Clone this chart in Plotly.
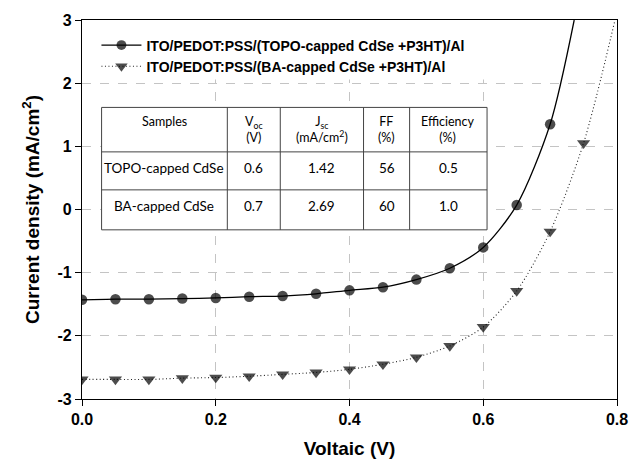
import plotly.graph_objects as go

# ---- data ----
voltage_topo = [0.00, 0.05, 0.10, 0.15, 0.20, 0.25, 0.30, 0.35, 0.40, 0.45, 0.50, 0.55, 0.60, 0.65, 0.70]
current_topo = [-1.43, -1.42, -1.42, -1.41, -1.40, -1.38, -1.37, -1.335, -1.28, -1.23, -1.11, -0.93, -0.60, 0.07, 1.35]
voltage_ba = [0.00, 0.05, 0.10, 0.15, 0.20, 0.25, 0.30, 0.35, 0.40, 0.45, 0.50, 0.55, 0.60, 0.65, 0.70, 0.75]
current_ba = [-2.69, -2.69, -2.69, -2.67, -2.66, -2.64, -2.61, -2.58, -2.53, -2.45, -2.34, -2.16, -1.86, -1.29, -0.35, 1.05]
# where each fitted curve leaves the top of the frame
curve_exit_topo = (0.736, 3.0)
curve_exit_ba = (0.797, 3.0)

series_names = ["ITO/PEDOT:PSS/(TOPO-capped CdSe +P3HT)/Al",
                "ITO/PEDOT:PSS/(BA-capped CdSe +P3HT)/Al"]

table_header = ["Samples", "V<sub>oc</sub><br>(V)", "J<sub>sc</sub><br>(mA/cm<sup>2</sup>)", "FF<br>(%)", "Efficiency<br>(%)"]
table_rows = [["TOPO-capped CdSe", "0.6", "1.42", "56", "0.5"],
              ["BA-capped CdSe", "0.7", "2.69", "60", "1.0"]]

x_ticks = [0.0, 0.2, 0.4, 0.6, 0.8]
y_ticks = [-3, -2, -1, 0, 1, 2, 3]

FONT = "Liberation Sans, Arial, sans-serif"
TFONT = "Lato, Open Sans, sans-serif"

fig = go.Figure()

fig.add_trace(go.Scatter(
    x=voltage_topo + [curve_exit_topo[0]], y=current_topo + [curve_exit_topo[1]],
    mode="lines+markers", name="<b>" + series_names[0] + "</b>",
    line=dict(color="black", width=1.3, shape="spline", smoothing=0.8),
    marker=dict(symbol="circle", color="black", size=[10.5] * len(voltage_topo) + [0],
                line=dict(width=0)),
))
fig.add_trace(go.Scatter(
    x=voltage_ba + [curve_exit_ba[0]], y=current_ba + [curve_exit_ba[1]],
    mode="lines+markers", name="<b>" + series_names[1] + "</b>",
    line=dict(color="#222", width=1.1, dash="1px,2.5px", shape="spline", smoothing=0.8),
    marker=dict(symbol="triangle-down", color="black", size=[11.5] * len(voltage_ba) + [0],
                line=dict(width=0)),
))

shapes = []
# white mask behind legend (hides grid, not traces)
shapes.append(dict(type="rect", xref="x", yref="y", x0=0.0, x1=0.66, y0=2.06, y1=3.0,
                   fillcolor="white", line=dict(width=0), layer="between"))

# table geometry (data coordinates)
col_edges = [0.0293, 0.2173, 0.2965, 0.4210, 0.4899, 0.6057]
row_edges = [1.616, 0.912, 0.311, -0.322]
shapes.append(dict(type="rect", xref="x", yref="y", x0=col_edges[0], x1=col_edges[-1],
                   y0=row_edges[-1], y1=row_edges[0], fillcolor="white",
                   line=dict(color="#444", width=1), layer="between"))
for cx in col_edges[1:-1]:
    shapes.append(dict(type="line", xref="x", yref="y", x0=cx, x1=cx, y0=row_edges[-1], y1=row_edges[0],
                       line=dict(color="#444", width=1), layer="between"))
for ry in row_edges[1:-1]:
    shapes.append(dict(type="line", xref="x", yref="y", x0=col_edges[0], x1=col_edges[-1], y0=ry, y1=ry,
                       line=dict(color="#444", width=1), layer="between"))

annotations = []
for i, txt in enumerate(table_header):
    annotations.append(dict(x=(col_edges[i] + col_edges[i + 1]) / 2, y=row_edges[0] - 0.08,
                            xref="x", yref="y", text=txt, showarrow=False, yanchor="top",
                            font=dict(family=TFONT, size=12.5, color="#000")))
for r, row in enumerate(table_rows):
    for i, txt in enumerate(row):
        annotations.append(dict(x=(col_edges[i] + col_edges[i + 1]) / 2, y=row_edges[r + 1] - 0.1,
                                xref="x", yref="y", text=txt, showarrow=False, yanchor="top",
                                font=dict(family=TFONT, size=13.5, color="#000")))

fig.update_layout(
    width=640, height=471,
    margin=dict(l=82, r=13, t=20, b=72),
    paper_bgcolor="white", plot_bgcolor="white",
    showlegend=True,
    legend=dict(x=0.027, y=0.975, xanchor="left", yanchor="top", bgcolor="rgba(0,0,0,0)",
                font=dict(family=FONT, size=14, color="black"), tracegroupgap=0,
                itemwidth=40),
    shapes=shapes, annotations=annotations,
    font=dict(family=FONT, color="black"),
    xaxis2=dict(overlaying="x", side="top", range=[0, 0.8], tickvals=x_ticks,
                showticklabels=False, ticks="inside", ticklen=4, tickcolor="black",
                showgrid=False, zeroline=False, showline=False),
)
fig.update_xaxes(
    selector=dict(overlaying=None),
)
fig.layout.xaxis.update(
    range=[0, 0.8], tickvals=x_ticks, ticktext=[f"{v:.1f}" for v in x_ticks],
    showline=True, linecolor="black", linewidth=1.3, mirror=True,
    ticks="outside", ticklen=6, tickcolor="black",
    showgrid=True, gridcolor="#c4c4c4", gridwidth=1, griddash="dash",
    tickfont=dict(family=FONT, size=16, color="black", weight="bold"),
    title=dict(text="<b>Voltaic (V)</b>", font=dict(family=FONT, size=19, color="black"), standoff=14),
    zeroline=False,
)
fig.update_yaxes(
    range=[-3, 3], tickvals=y_ticks, ticktext=[str(v) for v in y_ticks],
    showline=True, linecolor="black", linewidth=1.3, mirror=True,
    ticks="outside", ticklen=6, tickcolor="black",
    showgrid=True, gridcolor="#c4c4c4", gridwidth=1, griddash="dash",
    tickfont=dict(family=FONT, size=16, color="black", weight="bold"),
    title=dict(text="<b>Current density (mA/cm<sup>2</sup>)</b>", font=dict(family=FONT, size=19, color="black"), standoff=12),
    zeroline=False,
)

fig.write_html("out.html")
